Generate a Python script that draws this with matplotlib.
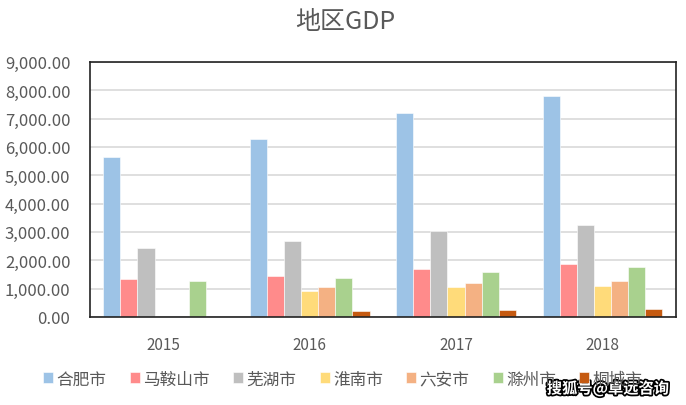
import numpy as np
import matplotlib
matplotlib.use("Agg")
import matplotlib.pyplot as plt
import matplotlib.patheffects as pe
from matplotlib.ticker import FuncFormatter

plt.rcParams['font.family'] = ['Noto Sans CJK SC', 'DejaVu Sans']

years = ['2015', '2016', '2017', '2018']
cities = ['合肥市', '马鞍山市', '芜湖市', '淮南市', '六安市', '滁州市', '桐城市']
hefei = [5660, 6270, 7200, 7780]
maanshan = [1340, 1460, 1700, 1870]
wuhu = [2430, 2670, 3030, 3250]
huainan = [0, 930, 1070, 1100]
luan = [0, 1070, 1180, 1260]
chuzhou = [1280, 1380, 1570, 1770]
tongcheng = [0, 200, 240, 280]
series = [hefei, maanshan, wuhu, huainan, luan, chuzhou, tongcheng]
colors = ['#9DC3E6', '#FF8B8B', '#BFBFBF', '#FFDB7A', '#F4B183', '#A9D18E', '#C55A11']

fig = plt.figure(figsize=(6.86, 4.06), dpi=100)
ax = fig.add_axes([0.131, 0.217, 0.854, 0.628])

x = np.arange(len(years))
w = 0.117
for i, (vals, c) in enumerate(zip(series, colors)):
    ax.bar(x + (i - 3) * w, vals, w, color=c, label=cities[i], zorder=2,
           edgecolor='white', linewidth=0.4)

ax.set_xlim(-0.5, 3.5)
ax.set_ylim(0, 9000)
ax.set_yticks(np.arange(0, 9001, 1000))
ax.yaxis.set_major_formatter(FuncFormatter(lambda v, p: f'{v:,.2f}'))
ax.set_xticks(x)
ax.set_xticklabels(years)
ax.grid(axis='y', color='#D9D9D9', linewidth=1.2, zorder=0)
ax.tick_params(length=0, labelsize=11, colors='#595959')
ax.tick_params(axis='x', pad=14)
ax.tick_params(axis='y', pad=14, labelsize=12)
for s in ax.spines.values():
    s.set_color('#222222')
    s.set_linewidth(1.2)

fig.text(0.503, 0.946, '地区GDP', ha='center', va='center', fontsize=18, color='#595959')

fig.legend(loc='center', bbox_to_anchor=(0.5, 0.064), ncol=7, frameon=False,
           fontsize=12, handlelength=0.6, handleheight=0.6, handletextpad=0.2,
           columnspacing=1.4, labelcolor='#595959')

fig.text(0.886, 0.04, '搜狐号@卓远咨询', ha='center', va='center', fontsize=11,
         color='white', fontweight='bold',
         path_effects=[pe.withStroke(linewidth=2.5, foreground='black')])

fig.savefig('out.png', dpi=100)
